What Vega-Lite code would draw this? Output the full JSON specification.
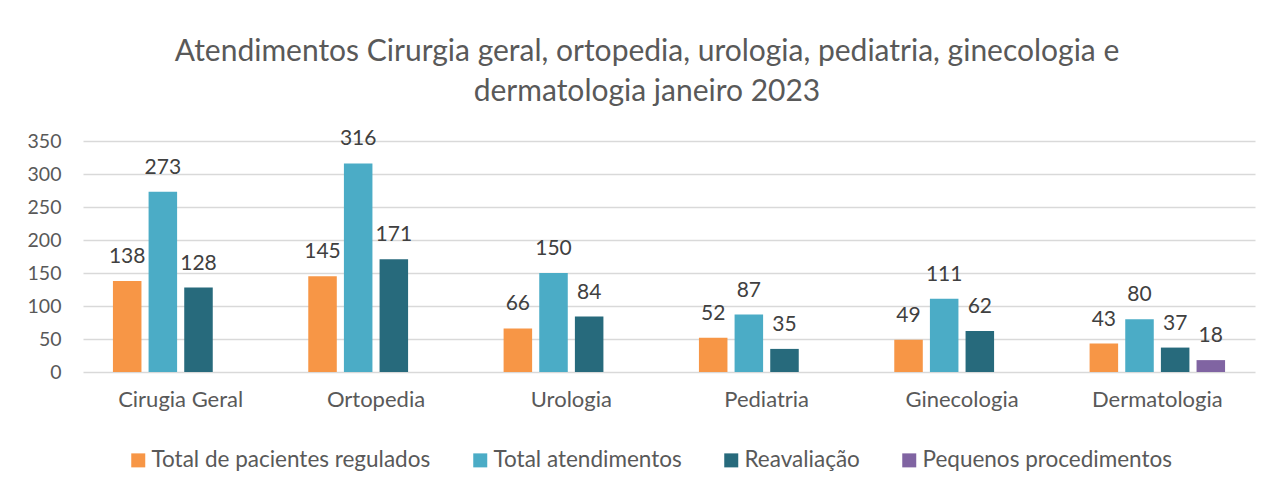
{
  "$schema": "https://vega.github.io/schema/vega-lite/v6.json",
  "width": 1172,
  "height": 231,
  "autosize": "none",
  "padding": {"left": 83, "top": 141, "right": 20, "bottom": 114},
  "background": "white",
  "title": {
    "text": ["Atendimentos Cirurgia geral, ortopedia, urologia, pediatria, ginecologia e", "dermatologia janeiro 2023"],
    "font": "Lato",
    "fontSize": 30,
    "fontWeight": "normal",
    "color": "#595959",
    "anchor": "middle",
    "lineHeight": 40,
    "offset": 21,
    "dx": -22
  },
  "data": {
    "values": [
      {"categoria": "Cirugia Geral", "serie": "Total de pacientes regulados", "valor": 138},
      {"categoria": "Cirugia Geral", "serie": "Total atendimentos", "valor": 273},
      {"categoria": "Cirugia Geral", "serie": "Reavaliação", "valor": 128},
      {"categoria": "Ortopedia", "serie": "Total de pacientes regulados", "valor": 145},
      {"categoria": "Ortopedia", "serie": "Total atendimentos", "valor": 316},
      {"categoria": "Ortopedia", "serie": "Reavaliação", "valor": 171},
      {"categoria": "Urologia", "serie": "Total de pacientes regulados", "valor": 66},
      {"categoria": "Urologia", "serie": "Total atendimentos", "valor": 150},
      {"categoria": "Urologia", "serie": "Reavaliação", "valor": 84},
      {"categoria": "Pediatria", "serie": "Total de pacientes regulados", "valor": 52},
      {"categoria": "Pediatria", "serie": "Total atendimentos", "valor": 87},
      {"categoria": "Pediatria", "serie": "Reavaliação", "valor": 35},
      {"categoria": "Ginecologia", "serie": "Total de pacientes regulados", "valor": 49},
      {"categoria": "Ginecologia", "serie": "Total atendimentos", "valor": 111},
      {"categoria": "Ginecologia", "serie": "Reavaliação", "valor": 62},
      {"categoria": "Dermatologia", "serie": "Total de pacientes regulados", "valor": 43},
      {"categoria": "Dermatologia", "serie": "Total atendimentos", "valor": 80},
      {"categoria": "Dermatologia", "serie": "Reavaliação", "valor": 37},
      {"categoria": "Dermatologia", "serie": "Pequenos procedimentos", "valor": 18}
    ]
  },
  "encoding": {
    "x": {
      "field": "categoria",
      "type": "nominal",
      "sort": null,
      "scale": {"paddingInner": 0.27, "paddingOuter": 0.135},
      "axis": {
        "title": null,
        "labelAngle": 0,
        "domain": false,
        "ticks": false,
        "labelFont": "Lato",
        "labelFontSize": 22,
        "labelColor": "#595959",
        "labelPadding": 17
      }
    },
    "xOffset": {
      "field": "serie",
      "type": "nominal",
      "sort": ["Total de pacientes regulados", "Total atendimentos", "Reavaliação", "Pequenos procedimentos"],
      "scale": {"domain": ["Total de pacientes regulados", "Total atendimentos", "Reavaliação", "Pequenos procedimentos"], "paddingInner": 0.2, "paddingOuter": 0.1}
    },
    "y": {
      "field": "valor",
      "type": "quantitative",
      "scale": {"domain": [0, 350], "nice": false},
      "axis": {
        "title": null,
        "values": [0, 50, 100, 150, 200, 250, 300, 350],
        "domain": false,
        "ticks": false,
        "grid": true,
        "gridColor": "#D9D9D9",
        "gridWidth": 1.5,
        "labelFont": "Lato",
        "labelFontSize": 19.5,
        "labelColor": "#595959",
        "labelPadding": 22
      }
    }
  },
  "layer": [
    {
      "mark": {"type": "bar"},
      "encoding": {
        "color": {
          "field": "serie",
          "type": "nominal",
          "scale": {
            "domain": ["Total de pacientes regulados", "Total atendimentos", "Reavaliação", "Pequenos procedimentos"],
            "range": ["#F79646", "#4BACC6", "#276A7C", "#8064A2"]
          },
          "legend": {
            "title": null,
            "orient": "none",
            "direction": "horizontal",
            "legendX": 44,
            "legendY": 308,
            "symbolType": "square",
            "symbolSize": 196,
            "symbolStrokeWidth": 0,
            "labelFont": "Lato",
            "labelFontSize": 22.5,
            "labelColor": "#595959",
            "labelOffset": 2,
            "columnPadding": 38,
            "labelLimit": 400
          }
        }
      }
    },
    {
      "mark": {"type": "text", "baseline": "alphabetic", "dy": -18, "font": "Lato", "fontSize": 21, "color": "#404040"},
      "encoding": {
        "text": {"field": "valor", "type": "quantitative"}
      }
    }
  ],
  "config": {
    "view": {"stroke": null}
  }
}
